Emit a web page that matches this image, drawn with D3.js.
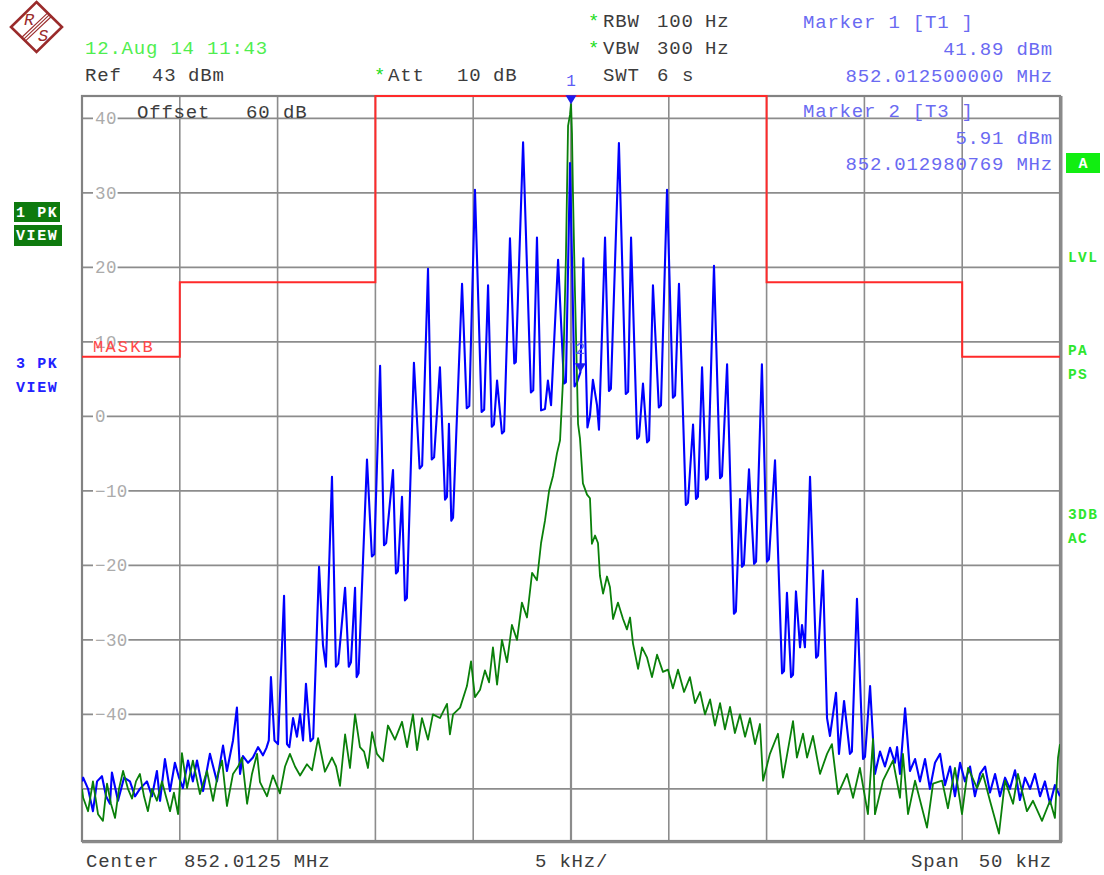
<!DOCTYPE html>
<html><head><meta charset="utf-8">
<script src="https://cdn.jsdelivr.net/npm/d3@7"></script>
<style>
html,body{margin:0;padding:0;background:#fff;}
svg{display:block;}
text{font-family:"Liberation Mono","DejaVu Sans Mono",monospace;}
</style></head><body>
<svg id="c" width="1104" height="875"></svg>
<script>
// Analyzer settings
const centerMHz = 852.0125;
const spanKHz = 50;
const refLevel = 43;      // dBm, top of screen
const levelRange = 100;   // dB shown, 10 dB/div
const levelTicks = [40, 30, 20, 10, 0, -10, -20, -30, -40];
const gridLevels = [40, 30, 20, 10, 0, -10, -20, -30, -40, -50];

// Limit line MASKB (frequency offset in kHz, level in dBm), stepped
const maskFreq = [-25, -20, -10, 10, 20, 25];
const maskLevel = [8, 18, 43, 18, 8, 8];

// Markers
const markerNames = ["1", "2"];
const markerFreqMHz = [852.0125, 852.012980769];
const markerLevel = [41.89, 5.91];

// Trace 3 (max hold, blue): [offset kHz, dBm]
const blueTrace = [
  [-25.00,-49],[-24.94,-48.5],[-24.69,-50],[-24.44,-53],[-24.23,-49],[-23.98,-48.3],[-23.77,-51],[-23.57,-52],
  [-23.47,-47.8],[-23.16,-51.6],[-22.85,-48.5],[-22.55,-49],[-22.29,-51],[-22.04,-50],[-21.68,-49],[-21.42,-51],
  [-21.17,-47.6],[-21.01,-51.6],[-20.76,-46],[-20.50,-50.3],[-20.25,-46.5],[-20.04,-48.5],[-19.84,-49.9],[-19.58,-46.2],
  [-19.33,-49],[-19.12,-46.2],[-18.81,-50.3],[-18.46,-45.3],[-18.10,-49],[-17.79,-44.2],[-17.59,-47.6],[-17.28,-43.5],
  [-17.08,-39.1],[-16.92,-48],[-16.77,-45.6],[-16.51,-46.5],[-16.26,-45.8],[-16.00,-44.4],[-15.75,-45.5],
  [-15.57,-44.5],[-15.45,-43.5],[-15.34,-35],[-15.16,-43.5],[-14.98,-44],[-14.67,-24.1],[-14.52,-44],[-14.40,-44.4],
  [-14.21,-40.5],[-14.01,-43],[-13.85,-40],[-13.70,-43.5],[-13.55,-35.9],[-13.32,-43.6],[-13.18,-43.2],
  [-12.88,-20.2],[-12.68,-30.7],[-12.53,-33.6],[-12.22,-8.1],[-12.02,-33.6],[-11.90,-33.2],[-11.55,-23],
  [-11.36,-33.6],[-11.25,-33.0],[-11.04,-23],[-10.96,-35],[-10.86,-34.5],[-10.43,-5.8],[-10.18,-18.8],[-10.06,-18.5],
  [-9.76,6.8],[-9.56,-17.3],[-9.45,-17.0],[-9.10,-7.2],[-8.95,-21.1],[-8.85,-20.8],[-8.64,-10.8],[-8.49,-24.7],
  [-8.39,-24.4],[-8.03,7.2],[-7.74,-7],[-7.61,-6.6],[-7.31,19.8],[-7.12,-5.8],[-7.00,-5.5],[-6.70,6.6],
  [-6.44,-11.2],[-6.34,-10.8],[-6.24,-1],[-6.12,-14],[-6.03,-13.6],[-5.57,17.8],[-5.33,1.1],[-5.20,1.4],
  [-4.91,30.4],[-4.57,0.6],[-4.44,0.9],[-4.24,17.6],[-4.05,-1.4],[-3.94,-1.1],[-3.78,4.8],[-3.53,-2.3],
  [-3.42,-2.0],[-3.12,23.9],[-2.90,7.1],[-2.82,7.3],[-2.45,36.8],[-2.05,3.2],[-1.93,3.5],[-1.74,24],
  [-1.53,0.8],[-1.33,1],[-1.18,4.8],[-1.02,1.5],[-0.66,21],[-0.36,4.4],[-0.26,4.6],[-0.05,34],
  [0.18,4.0],[0.30,4.5],[0.48,5.91],[0.63,21.2],[0.84,-1.5],[0.97,0.1],[1.12,4.9],[1.33,1.5],
  [1.43,-1.8],[1.74,24],[1.94,3.4],[2.04,3.7],[2.45,36.7],[2.80,3],[2.92,3.3],[3.07,24],
  [3.38,-3],[3.48,-2.7],[3.68,4.4],[3.89,-3.5],[3.99,-3.2],[4.19,17.6],[4.49,1.2],[4.60,1.5],
  [4.91,30.4],[5.21,2.5],[5.32,2.8],[5.52,17.8],[5.87,-11.9],[5.98,-11.6],[6.24,-1.1],[6.39,-11.1],
  [6.49,-10.8],[6.70,6.6],[6.90,-8.5],[7.00,-8.2],[7.31,20.2],[7.62,-8.3],[7.72,-8.0],[7.98,7.0],
  [8.33,-26.5],[8.43,-26.2],[8.64,-11.1],[8.74,-20.2],[8.84,-19.9],[9.10,-7.1],[9.36,-19.8],[9.46,-19.5],
  [9.76,7.0],[10.02,-19.5],[10.12,-19.2],[10.43,-5.9],[10.79,-34.5],[10.89,-34.2],[11.04,-23.7],[11.25,-35],
  [11.35,-34.7],[11.50,-23.5],[11.71,-31],[11.81,-28],[11.96,-31],[12.22,-8.1],[12.53,-32.4],[12.63,-32.1],
  [12.88,-20.7],[13.09,-40.5],[13.24,-42.9],[13.55,-37.1],[13.70,-45.3],[13.96,-38.2],[14.26,-45.3],[14.36,-45.0],
  [14.62,-24.5],[14.93,-46],[15.03,-45.7],[15.29,-36.2],
  [15.54,-48],[15.80,-45],[16.05,-47],[16.31,-44.5],[16.56,-46.5],[16.67,-44.4],[16.82,-48],[17.08,-39.2],
  [17.33,-47.6],[17.59,-46],[17.84,-49],[18.10,-46],[18.35,-50],[18.61,-46.5],[18.87,-45.3],[19.12,-49.5],
  [19.38,-47],[19.63,-51],[19.89,-46.5],[20.14,-49],[20.40,-47],[20.65,-51],[20.91,-48],[21.17,-47],
  [21.42,-50.5],[21.68,-48],[21.93,-51],[22.19,-48.5],[22.44,-50],[22.70,-47.5],[22.95,-51.5],[23.21,-48.5],
  [23.47,-50],[23.72,-48],[23.98,-51],[24.23,-49],[24.49,-52],[24.74,-49.5],[25.00,-51]
];

// Trace 1 (max hold, green): [offset kHz, dBm]
const greenTrace = [
  [-25.00,-50],[-24.94,-51.2],[-24.69,-53],[-24.44,-49],[-24.18,-53.4],[-23.93,-54.3],[-23.72,-49.3],[-23.52,-52],
  [-23.31,-53.9],[-23.11,-50],[-22.90,-47.6],[-22.65,-50],[-22.44,-51.3],[-22.24,-49],[-22.04,-48],[-21.83,-51],
  [-21.63,-53],[-21.42,-50],[-21.17,-51.6],[-20.91,-49],[-20.71,-51],[-20.50,-53],[-20.30,-50.5],[-20.09,-53.4],
  [-19.89,-45.2],[-19.63,-49.9],[-19.33,-46.2],[-18.97,-50.7],[-18.61,-47.6],[-18.30,-51.6],[-18.05,-48],[-17.84,-46.2],
  [-17.59,-52.3],[-17.28,-48],[-17.02,-47],[-16.82,-45.8],[-16.56,-52],[-16.31,-48],[-16.05,-45.3],[-15.90,-49.1],
  [-15.54,-51],[-15.24,-48.2],[-14.88,-50.6],[-14.62,-47],[-14.37,-45.3],[-14.11,-47],[-13.85,-48.2],[-13.50,-46.7],
  [-13.24,-47.5],[-12.93,-43.2],[-12.58,-47.7],[-12.22,-45.8],[-12.01,-47],[-11.81,-49.6],[-11.55,-42.7],[-11.30,-47.2],
  [-11.04,-40],[-10.79,-44.4],[-10.58,-45],[-10.38,-47.2],[-10.17,-42.4],[-9.92,-45.3],[-9.61,-46.3],[-9.36,-41.5],
  [-9.00,-43.4],[-8.64,-41],[-8.38,-44.4],[-8.08,-40],[-7.87,-44.8],[-7.62,-40.5],[-7.31,-43.4],[-7.06,-40],
  [-6.70,-40.5],[-6.34,-38.6],[-6.19,-42.7],[-6.03,-40],[-5.67,-39.1],[-5.32,-36.2],[-5.11,-32.9],[-4.91,-37.7],
  [-4.65,-36.7],[-4.40,-34.1],[-4.19,-35.7],[-3.99,-31],[-3.78,-36],[-3.53,-30],[-3.27,-33],[-3.02,-28],
  [-2.76,-30],[-2.51,-25],[-2.25,-27],[-1.99,-21],[-1.74,-22],[-1.53,-17],[-1.33,-14],[-1.12,-10],
  [-0.92,-8],[-0.72,-5],[-0.56,-3.2],[-0.41,4.8],[-0.26,21.4],[-0.15,39],[-0.05,40.5],[0,41.89],
  [0.05,38],[0.10,30],[0.20,17],[0.31,4.8],[0.36,-1],[0.46,-3],[0.61,-9],[0.82,-10.5],
  [0.97,-11],[1.07,-17.1],[1.23,-16],[1.38,-17],[1.48,-21.4],[1.64,-23.8],[1.84,-21.5],[1.99,-22.9],
  [2.15,-27.2],[2.40,-25],[2.66,-27.2],[2.86,-28.6],[3.02,-27],[3.17,-30.5],[3.43,-33.9],[3.63,-31],
  [3.89,-32.4],[4.14,-35],[4.40,-32],[4.70,-34.3],[4.96,-34],[5.21,-36.5],[5.47,-34],[5.78,-37],
  [6.08,-35],[6.34,-38.5],[6.60,-37],[6.85,-40],[7.11,-38],[7.36,-41.5],[7.62,-38.5],[7.87,-42],
  [8.13,-39],[8.38,-42.5],[8.64,-40],[8.90,-43],[9.15,-40.5],[9.41,-44],[9.66,-41.3],[9.82,-48.9],
  [10.17,-45.3],[10.58,-42.6],[10.84,-48.5],[11.35,-40.9],[11.55,-45.8],[11.86,-42.6],[12.07,-45.8],[12.37,-42.9],
  [12.73,-48],[13.09,-45.3],[13.34,-44],[13.65,-50.7],[14.11,-48],[14.42,-51.2],[14.77,-47.2],[15.18,-53.4],
  [15.44,-43.3],[15.54,-53.4],[15.95,-48.9],[16.46,-46.2],[16.82,-51.2],[16.97,-45.3],[17.23,-53.4],[17.59,-48.9],
  [18.20,-55.2],[18.51,-49.3],[18.97,-48.9],[19.27,-52.6],[19.63,-47.2],[19.99,-53.4],[20.30,-47.2],[20.76,-49.9],
  [21.06,-48],[21.42,-51.6],[21.88,-56],[22.19,-48.9],[22.60,-52],[22.85,-48],[23.31,-53],[23.62,-51.6],
  [24.08,-54.3],[24.49,-51.6],[24.74,-53.9],[24.90,-45.8],[25.00,-44]
];

const svg = d3.select("#c");
const L = 82, R = 1060, T = 96, B = 841;
const x = d3.scaleLinear().domain([-spanKHz / 2, spanKHz / 2]).range([L, R]);
const y = d3.scaleLinear().domain([refLevel - levelRange, refLevel]).range([B, T]);

const gridColor = "#8c8c8c";

// Grid
const g = svg.append("g");
g.selectAll("line.v").data(x.ticks(10).filter(d => d > -25 && d < 25)).join("line")
  .attr("x1", d => x(d)).attr("x2", d => x(d)).attr("y1", T).attr("y2", B)
  .attr("stroke", gridColor).attr("stroke-width", d => d === 0 ? 2.2 : 1.6);
g.selectAll("line.h").data(gridLevels).join("line")
  .attr("x1", L).attr("x2", R).attr("y1", d => y(d)).attr("y2", d => y(d))
  .attr("stroke", gridColor).attr("stroke-width", 1.6);

// Level labels, set into the grid lines
const fmt = v => v < 0 ? "\u2212" + Math.abs(v) : String(v);
const lab = svg.append("g");
levelTicks.forEach(v => {
  const s = fmt(v);
  lab.append("rect").attr("x", 93).attr("y", y(v) - 7).attr("width", s.length * 10.8 + 3).attr("height", 14).attr("fill", "#fff");
  lab.append("text").attr("x", 95).attr("y", y(v) + 6).attr("font-size", 17.5).attr("letter-spacing", 0.4)
    .attr("fill", "#ababab").text(s);
});

// Frame
svg.append("rect").attr("x", L).attr("y", T).attr("width", R - L).attr("height", B - T)
  .attr("fill", "none").attr("stroke", "#828282").attr("stroke-width", 2.2);
svg.append("line").attr("x1", R + 1).attr("x2", R + 1).attr("y1", T).attr("y2", B + 1)
  .attr("stroke", "#8a8a8a").attr("stroke-width", 3);
svg.append("line").attr("x1", L).attr("x2", R + 2).attr("y1", B + 1).attr("y2", B + 1)
  .attr("stroke", "#8a8a8a").attr("stroke-width", 2.5);

// Clip for traces
svg.append("clipPath").attr("id", "plot").append("rect")
  .attr("x", L).attr("y", T - 1).attr("width", R - L).attr("height", B - T + 1);

// Limit line
const maskPts = maskFreq.map((f, i) => [f, maskLevel[i]]);
svg.append("path").datum(maskPts)
  .attr("d", d3.line().x(d => x(d[0])).y(d => y(d[1])).curve(d3.curveStepAfter))
  .attr("fill", "none").attr("stroke", "#ff2a2a").attr("stroke-width", 2);

svg.append("text").attr("x", 93).attr("y", 352).attr("font-size", 17).attr("letter-spacing", 2.2)
  .attr("fill", "#ff4a4a").text("MASKB");

// Traces
const line = d3.line().x(d => x(d[0])).y(d => y(d[1]));
const traces = svg.append("g").attr("clip-path", "url(#plot)");
traces.append("path").datum(blueTrace).attr("d", line)
  .attr("fill", "none").attr("stroke", "#0000ff").attr("stroke-width", 2.1).attr("stroke-linejoin", "round");
traces.append("path").datum(greenTrace).attr("d", line)
  .attr("fill", "none").attr("stroke", "#0a800a").attr("stroke-width", 1.8).attr("stroke-linejoin", "round");

// Markers
markerNames.forEach((n, i) => {
  const mx = x((markerFreqMHz[i] - centerMHz) * 1000);
  const my = y(markerLevel[i]);
  svg.append("path").attr("d", `M${mx - 5.5},${my - 9}L${mx + 5.5},${my - 9}L${mx},${my}Z`).attr("fill", "#1c1cf0");
  svg.append("text").attr("x", mx).attr("y", my - 18).attr("text-anchor", "middle")
    .attr("font-size", 16).attr("fill", "#5c5cf5").text(n);
});

// Header text
const dark = "#3c3c3c", star = "#22dd22", mk = "#6a6af2";
const hdr = [
  ["12.Aug 14 11:43", 85, 54, "#4fee4f", "start"],
  ["Ref", 85, 81, dark, "start"], ["43", 152, 81, dark, "start"], ["dBm", 188, 81, dark, "start"],
  ["Offset", 137, 118, dark, "start"], ["60", 246, 118, dark, "start"], ["dB", 283, 118, dark, "start"],
  ["*", 374, 81, star, "start"], ["Att", 388, 81, dark, "start"], ["10", 457, 81, dark, "start"], ["dB", 493, 81, dark, "start"],
  ["*", 588, 27, star, "start"], ["RBW", 603, 27, dark, "start"], ["100", 657, 27, dark, "start"], ["Hz", 705, 27, dark, "start"],
  ["*", 588, 54, star, "start"], ["VBW", 603, 54, dark, "start"], ["300", 657, 54, dark, "start"], ["Hz", 705, 54, dark, "start"],
  ["SWT", 603, 81, dark, "start"], ["6", 657, 81, dark, "start"], ["s", 682, 81, dark, "start"],
  ["Marker 1 [T1 ]", 803, 28, mk, "start"],
  [markerLevel[0].toFixed(2) + " dBm", 1053, 55, mk, "end"],
  [markerFreqMHz[0].toFixed(9) + " MHz", 1053, 82, mk, "end"],
  ["Marker 2 [T3 ]", 803, 117, mk, "start"],
  [markerLevel[1].toFixed(2) + " dBm", 1053, 144, mk, "end"],
  [markerFreqMHz[1].toFixed(9) + " MHz", 1053, 170, mk, "end"],
  ["Center", 86, 867, dark, "start"], [centerMHz + " MHz", 184, 867, dark, "start"],
  [(spanKHz / 10) + " kHz/", 535, 867, dark, "start"],
  ["Span", 911, 867, dark, "start"], [spanKHz + " kHz", 1052, 867, dark, "end"]
];
svg.append("g").selectAll("text").data(hdr).join("text")
  .attr("x", d => d[1]).attr("y", d => d[2]).attr("fill", d => d[3]).attr("text-anchor", d => d[4])
  .attr("font-size", 19).attr("letter-spacing", 0.8)
  .style("white-space", "pre").text(d => d[0]);

// Trace info boxes
const boxes = [["1 PK", 14, 202, 46, 20], ["VIEW", 14, 225, 48, 21]];
boxes.forEach(b => {
  svg.append("rect").attr("x", b[1]).attr("y", b[2]).attr("width", b[3]).attr("height", b[4]).attr("fill", "#0e7a0e");
  svg.append("text").attr("x", b[1] + 2).attr("y", b[2] + 15).attr("font-size", 15).attr("font-weight", "bold")
    .attr("letter-spacing", 1.6).attr("fill", "#fff").style("white-space", "pre").text(b[0]);
});
[["3 PK", 368], ["VIEW", 392]].forEach(t => {
  svg.append("text").attr("x", 16).attr("y", t[1]).attr("font-size", 15).attr("font-weight", "bold")
    .attr("letter-spacing", 1.6).attr("fill", "#2222ff").style("white-space", "pre").text(t[0]);
});

// Right status column
svg.append("rect").attr("x", 1066).attr("y", 153).attr("width", 34).attr("height", 20).attr("fill", "#11ee11");
svg.append("text").attr("x", 1083).attr("y", 168).attr("text-anchor", "middle").attr("font-size", 15)
  .attr("font-weight", "bold").attr("fill", "#fff").text("A");
[["LVL", 262], ["PA", 355], ["PS", 379], ["3DB", 519], ["AC", 543]].forEach(t => {
  svg.append("text").attr("x", 1068).attr("y", t[1]).attr("font-size", 14.5).attr("font-weight", "bold")
    .attr("letter-spacing", 1.4).attr("fill", "#2ee62e").text(t[0]);
});

// Logo
const logo = svg.append("g").attr("stroke", "#9a2b2b").attr("fill", "none");
logo.append("path").attr("d", "M36.5,2L62,27L36.5,52L11,27Z").attr("stroke-width", 2.6).attr("fill", "#fff");
[-2.6, 0, 2.6].forEach(o => {
  logo.append("line").attr("x1", 23.2 + o * 0.7).attr("y1", 39.6 + o * 0.714)
    .attr("x2", 49.8 + o * 0.7).attr("y2", 14.4 + o * 0.714).attr("stroke-width", 1.1);
});
svg.append("text").attr("x", 24).attr("y", 25).attr("font-family", "Liberation Serif").attr("font-size", 17)
  .attr("font-style", "italic").attr("fill", "#9a2b2b").text("R");
svg.append("text").attr("x", 38).attr("y", 41).attr("font-family", "Liberation Serif").attr("font-size", 17)
  .attr("font-style", "italic").attr("fill", "#9a2b2b").text("S");
</script>
</body></html>
